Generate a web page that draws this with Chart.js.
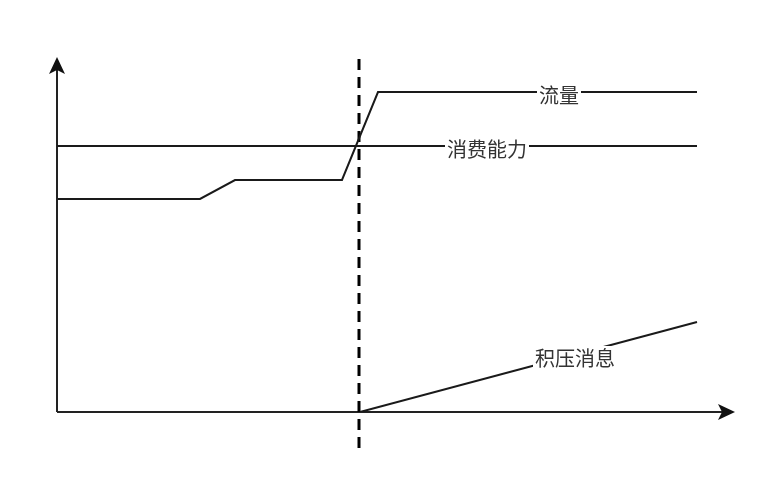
<!DOCTYPE html>
<html>
<head>
<meta charset="utf-8">
<script src="https://cdn.jsdelivr.net/npm/chart.js@4.4.1/dist/chart.umd.min.js"></script>
<style>
  html, body { margin: 0; padding: 0; background: #fff; }
  #wrap { width: 757px; height: 484px; }
</style>
</head>
<body>
<div id="wrap"><canvas id="chart"></canvas></div>
<script>
// x = time, y = level (origin at the axes crossing)
const trafficX = [1, 143, 178, 285, 321, 640];
const trafficY = [213, 213, 232, 232, 320, 320];
const capacityX = [0, 640];
const capacityY = [266, 266];
const backlogX = [303, 640];
const backlogY = [0, 90];
const markerX = [302, 302];
const markerY = [-36, 357];

const labels = [
    { text: '流量', x: 502, y: 320 },
    { text: '消费能力', x: 430, y: 266 },
    { text: '积压消息', x: 518, y: 57 }
];

const toPoints = (xs, ys) => xs.map((x, i) => ({ x: x, y: ys[i] }));

const lineColor = '#1a1a1a';

const axesPlugin = {
    id: 'axes',
    beforeDatasetsDraw(chart) {
        const ctx = chart.ctx;
        const xs = chart.scales.x;
        const ys = chart.scales.y;
        const ox = xs.getPixelForValue(0);
        const oy = ys.getPixelForValue(0);
        const xEnd = xs.getPixelForValue(xs.max);
        const yEnd = ys.getPixelForValue(ys.max);
        ctx.save();
        ctx.strokeStyle = '#222';
        ctx.fillStyle = '#111';
        ctx.lineWidth = 2;
        ctx.beginPath();
        ctx.moveTo(ox, oy);
        ctx.lineTo(ox, yEnd + 10);
        ctx.moveTo(ox, oy);
        ctx.lineTo(xEnd - 10, oy);
        ctx.stroke();
        // arrow heads
        ctx.beginPath();
        ctx.moveTo(ox, yEnd);
        ctx.lineTo(ox - 8, yEnd + 17);
        ctx.lineTo(ox, yEnd + 13);
        ctx.lineTo(ox + 8, yEnd + 17);
        ctx.closePath();
        ctx.fill();
        ctx.beginPath();
        ctx.moveTo(xEnd, oy);
        ctx.lineTo(xEnd - 17, oy - 8);
        ctx.lineTo(xEnd - 13, oy);
        ctx.lineTo(xEnd - 17, oy + 8);
        ctx.closePath();
        ctx.fill();
        ctx.restore();
    }
};

const labelPlugin = {
    id: 'lineLabels',
    afterDatasetsDraw(chart) {
        const ctx = chart.ctx;
        const xs = chart.scales.x;
        const ys = chart.scales.y;
        ctx.save();
        ctx.font = '20px "Noto Sans CJK SC", sans-serif';
        ctx.textAlign = 'center';
        ctx.textBaseline = 'middle';
        labels.forEach(l => {
            const px = xs.getPixelForValue(l.x);
            const py = ys.getPixelForValue(l.y);
            const w = ctx.measureText(l.text).width;
            ctx.fillStyle = '#fff';
            ctx.fillRect(px - w / 2 - 2, py - 9, w + 4, 22);
            ctx.fillStyle = '#333';
            ctx.fillText(l.text, px, py + 3);
        });
        ctx.restore();
    }
};

new Chart(document.getElementById('chart'), {
    type: 'scatter',
    data: {
        datasets: [
            { label: '流量', data: toPoints(trafficX, trafficY) },
            { label: '消费能力', data: toPoints(capacityX, capacityY) },
            { label: '积压消息', data: toPoints(backlogX, backlogY) },
            { label: 'marker', data: toPoints(markerX, markerY), borderWidth: 3, borderDash: [11, 7], borderColor: '#000', clip: false }
        ].map(ds => Object.assign({
            showLine: true,
            borderColor: lineColor,
            borderWidth: 2,
            pointRadius: 0,
            tension: 0,
            fill: false
        }, ds))
    },
    options: {
        responsive: true,
        maintainAspectRatio: false,
        animation: false,
        layout: { padding: { left: 57, right: 22, top: 57, bottom: 72 } },
        plugins: {
            legend: { display: false },
            tooltip: { enabled: false }
        },
        scales: {
            x: { type: 'linear', min: 0, max: 678, display: false },
            y: { type: 'linear', min: 0, max: 355, display: false }
        }
    },
    plugins: [axesPlugin, labelPlugin]
});
</script>
</body>
</html>
